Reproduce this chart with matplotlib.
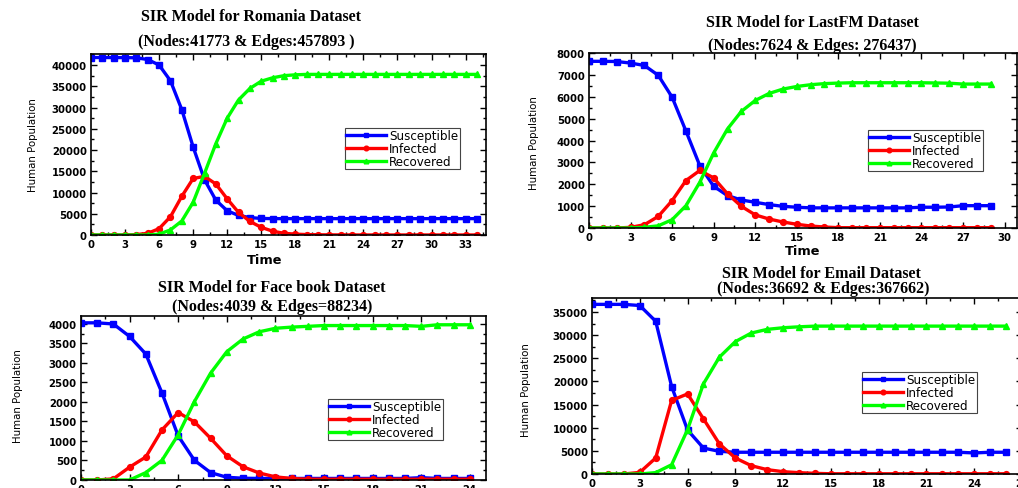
import matplotlib
matplotlib.use("Agg")
import matplotlib.pyplot as plt
from matplotlib.ticker import MultipleLocator
import numpy as np

# ---------------- data ----------------
rom_t = list(range(35))
rom_S = [41770, 41770, 41760, 41750, 41700, 41300, 40000, 36300, 29500, 20700, 13000, 8200,
         5700, 4600, 4100, 3900, 3850, 3850, 3850, 3850, 3850, 3850, 3850, 3850, 3850, 3850,
         3850, 3850, 3850, 3850, 3850, 3850, 3850, 3850, 3850]
rom_I = [0, 0, 0, 0, 100, 400, 1500, 4300, 9100, 13300, 13800, 12000, 8500, 5300, 3200, 1800,
         900, 400, 200, 100, 50, 30, 20, 10, 10, 10, 10, 10, 10, 10, 10, 10, 10, 10, 10]
rom_R = [0, 0, 0, 0, 0, 0, 200, 1200, 3300, 7700, 14500, 21500, 27500, 31800, 34500, 36200,
         37000, 37500, 37700, 37800, 37800, 37800, 37800, 37800, 37800, 37800, 37800, 37800,
         37800, 37800, 37800, 37800, 37800, 37800, 37800]

lfm_t = list(range(30))
lfm_S = [7620, 7620, 7610, 7540, 7430, 6980, 5980, 4430, 2850, 1910, 1480, 1280, 1175, 1070,
         990, 950, 920, 920, 920, 920, 920, 920, 920, 920, 950, 950, 960, 1020, 1020, 1020]
lfm_I = [0, 0, 0, 30, 150, 530, 1250, 2170, 2630, 2290, 1560, 990, 600, 410, 275, 170, 90, 45,
         15, 15, 15, 15, 15, 15, 15, 15, 15, 15, 15, 15]
lfm_R = [0, 0, 0, 0, 30, 100, 380, 1020, 2090, 3430, 4530, 5330, 5830, 6150, 6350, 6470, 6550,
         6600, 6625, 6640, 6640, 6640, 6640, 6640, 6640, 6630, 6620, 6580, 6580, 6580]

fb_t = list(range(25))
fb_S = [4030, 4030, 4000, 3680, 3230, 2230, 1130, 505, 190, 70, 45, 40, 40, 40, 40, 40, 40, 40,
        40, 40, 40, 60, 40, 40, 40]
fb_I = [0, 0, 30, 330, 590, 1285, 1730, 1490, 1070, 620, 340, 180, 80, 40, 20, 20, 20, 20, 20,
        20, 20, 20, 20, 20, 20]
fb_R = [0, 0, 0, 0, 190, 505, 1160, 2010, 2740, 3290, 3615, 3800, 3890, 3920, 3940, 3960, 3960,
        3960, 3960, 3960, 3960, 3940, 3980, 3980, 3980]

em_t = list(range(27))
em_S = [36650, 36650, 36650, 36400, 33000, 18900, 9500, 5600, 4900, 4700, 4700, 4700, 4700,
        4700, 4700, 4700, 4700, 4700, 4700, 4700, 4700, 4700, 4700, 4700, 4550, 4700, 4700]
em_I = [0, 0, 0, 350, 3460, 15900, 17300, 11900, 6500, 3460, 1800, 940, 500, 290, 140, 50, 50,
        50, 50, 50, 50, 50, 50, 50, 50, 50, 50]
em_R = [0, 0, 0, 0, 300, 2000, 9600, 19500, 25250, 28600, 30450, 31250, 31600, 31800, 31950,
        31950, 31950, 31950, 31950, 31950, 31950, 31950, 31950, 31950, 31950, 31950, 31950]

legend_labels = ["Susceptible", "Infected", "Recovered"]
titles = ["SIR Model for Romania Dataset\n(Nodes:41773 & Edges:457893 )",
          "SIR Model for LastFM Dataset\n(Nodes:7624 & Edges: 276437)",
          "SIR Model for Face book Dataset\n(Nodes:4039 & Edges=88234)",
          "SIR Model for Email Dataset\n(Nodes:36692 & Edges:367662)"]

# ---------------- figure ----------------
W, H = 1018, 489
fig = plt.figure(figsize=(W / 100, H / 100), dpi=100)


def rect(left, right, top, bottom):
    return [left / W, (H - bottom) / H, (right - left) / W, (bottom - top) / H]


panels = [
    dict(r=rect(91, 486, 55, 236), t=rom_t, S=rom_S, I=rom_I, R=rom_R, xlim=(0, 34.8),
         ylim=(0, 42600), ymaj=5000, leg=(345, 129), title=titles[0],
         tl=[(251, 17), (246, 42)], ylab=(33, 145), xlab=(265, 261)),
    dict(r=rect(589, 1017, 54, 229), t=lfm_t, S=lfm_S, I=lfm_I, R=lfm_R, xlim=(0, 30.9),
         ylim=(0, 8000), ymaj=1000, leg=(868, 131), title=titles[1],
         tl=[(812, 23), (812, 46)], ylab=(534, 143), xlab=(803, 252)),
    dict(r=rect(81, 486, 317, 481), t=fb_t, S=fb_S, I=fb_I, R=fb_R, xlim=(0, 25),
         ylim=(0, 4205), ymaj=500, leg=(328, 400), title=titles[2],
         tl=[(272, 288), (272, 307)], ylab=(18, 396), xlab=None),
    dict(r=rect(592, 1022, 299, 475), t=em_t, S=em_S, I=em_I, R=em_R, xlim=(0, 27),
         ylim=(0, 38025), ymaj=5000, leg=(862, 373), title=titles[3],
         tl=[(821, 274), (823, 289)], ylab=(526, 390), xlab=None),
]

for p in panels:
    ax = fig.add_axes(p["r"])
    ax.plot(p["t"], p["S"], color="#0000ff", marker="s", ms=4.2, lw=2.4, label=legend_labels[0])
    ax.plot(p["t"], p["I"], color="#ff0000", marker="o", ms=4.2, lw=2.4, label=legend_labels[1])
    ax.plot(p["t"], p["R"], color="#00ff00", marker="^", ms=4.2, lw=2.4, label=legend_labels[2])
    ax.set_xlim(*p["xlim"])
    ax.set_ylim(*p["ylim"])
    ax.xaxis.set_major_locator(MultipleLocator(3))
    ax.xaxis.set_minor_locator(MultipleLocator(1.5))
    ax.yaxis.set_major_locator(MultipleLocator(p["ymaj"]))
    ax.yaxis.set_minor_locator(MultipleLocator(p["ymaj"] / 2))
    ax.tick_params(which="both", direction="in", top=True, right=True, width=1)
    ax.tick_params(which="major", length=4, pad=3)
    ax.tick_params(which="minor", length=2)
    for sp in ax.spines.values():
        sp.set_linewidth(1.2)
    for lab in ax.get_xticklabels() + ax.get_yticklabels():
        lab.set_fontfamily("DejaVu Sans")
        lab.set_fontweight("bold")
        lab.set_fontsize(7.3)
    # legend
    l, t_ = p["leg"]
    leg = ax.legend(loc="upper left",
                    bbox_to_anchor=(l / W, (H - t_) / H), bbox_transform=fig.transFigure,
                    prop=dict(family="DejaVu Sans", size=8.6),
                    frameon=True, fancybox=False, edgecolor="#444444", framealpha=1,
                    handlelength=3.3, handletextpad=0.3, labelspacing=0.0,
                    borderpad=0.1, borderaxespad=0, markerscale=0.8)
    leg.get_frame().set_linewidth(0.8)
    # titles
    line1, line2 = p["title"].split("\n")
    for (x, y), txt in zip(p["tl"], [line1, line2]):
        fig.text(x / W, (H - y) / H, txt, ha="center", va="center",
                 family=["Liberation Serif", "DejaVu Serif"], weight="bold", size=11.5)
    # y label
    x, y = p["ylab"]
    fig.text(x / W, (H - y) / H, "Human Population", rotation=90, ha="center", va="center",
             family="DejaVu Sans", stretch="condensed", size=8.2)
    if p["xlab"] is not None:
        x, y = p["xlab"]
        fig.text(x / W, (H - y) / H, "Time", ha="center", va="center",
                 family="DejaVu Sans", weight="bold", size=9.3)

fig.savefig("out.png", dpi=100)
